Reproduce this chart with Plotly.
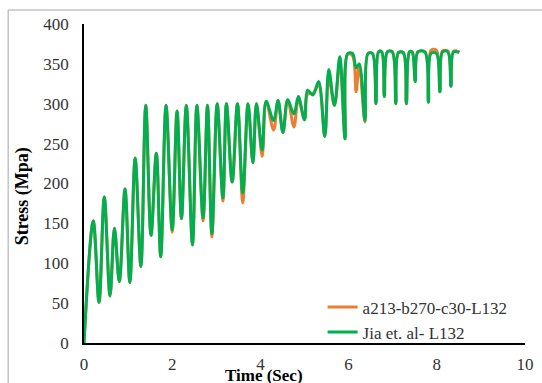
import plotly.graph_objects as go

# Time (s) of each turning point, shared by both series
time_s = [0.00, 0.21, 0.34, 0.46, 0.59, 0.69, 0.80, 0.93, 1.04, 1.16, 1.29, 1.40, 1.52, 1.64, 1.74, 1.86,
          2.00, 2.11, 2.21, 2.32, 2.46, 2.56, 2.70, 2.80, 2.90, 3.02, 3.15, 3.23, 3.36, 3.48, 3.60, 3.72,
          3.83, 3.91, 4.04, 4.13, 4.30, 4.40, 4.51, 4.62, 4.76, 4.86, 5.00, 5.07, 5.19, 5.32, 5.46, 5.55,
          5.68, 5.80, 5.92, 5.98, 6.09, 6.17, 6.24, 6.37,
          6.44, 6.54, 6.62, 6.68, 6.75, 6.81, 6.88, 6.99, 7.07, 7.13, 7.24, 7.31, 7.38, 7.44, 7.51,
          7.57, 7.73, 7.81, 7.87, 7.99, 8.07, 8.13, 8.25, 8.32, 8.38, 8.51]

# Stress (MPa), model a213-b270-c30-L132 (orange)
stress_model = [0, 153, 51, 183, 59, 144, 77, 193, 76, 232, 96, 298, 135, 238, 108, 298,
                139, 291, 156, 298, 123, 298, 153, 298, 133, 300, 178, 300, 202, 300, 176, 300,
                226, 300, 234, 303, 267, 304, 264, 305, 271, 306, 280, 312, 313, 323, 259, 332,
                298, 352, 256, 362, 360, 315, 350, 277,
                363, 363, 300, 365, 365, 309, 365, 365, 300, 364, 364, 300, 365, 365, 328,
                365, 365, 302, 367, 367, 315, 366, 366, 322, 366, 365]

# Stress (MPa), Jia et al. L132 (green)
stress_jia = [0, 153, 51, 183, 59, 144, 77, 193, 76, 232, 96, 298, 135, 238, 108, 298,
              142, 291, 156, 298, 123, 298, 157, 298, 137, 300, 182, 300, 202, 300, 188, 300,
              226, 300, 242, 303, 279, 304, 264, 305, 287, 309, 280, 317, 311, 328, 259, 343,
              298, 359, 256, 363, 363, 345, 350, 279,
              363, 363, 300, 365, 365, 309, 365, 365, 300, 364, 364, 300, 365, 365, 328,
              365, 365, 302, 363, 363, 315, 365, 365, 322, 365, 364]

x_ticks = [0, 2, 4, 6, 8, 10]
y_ticks = [0, 50, 100, 150, 200, 250, 300, 350, 400]

FONT = "Liberation Serif, DejaVu Serif, serif"
TICK_COLOR = "#333333"

fig = go.Figure()
fig.add_trace(go.Scatter(x=time_s, y=stress_model, mode="lines", name="a213-b270-c30-L132",
                         line=dict(color="#ED7D31", width=3, shape="spline", smoothing=1.0)))
fig.add_trace(go.Scatter(x=time_s, y=stress_jia, mode="lines", name="Jia et. al- L132",
                         line=dict(color="#00B050", width=3, shape="spline", smoothing=1.0)))

fig.update_layout(
    width=542, height=383,
    margin=dict(l=84, r=16.5, t=24, b=39.7),
    paper_bgcolor="white", plot_bgcolor="white",
    font=dict(family=FONT, size=17, color=TICK_COLOR),
    showlegend=True,
    legend=dict(x=0.541, y=0.168, xanchor="left", yanchor="top",
                bgcolor="rgba(0,0,0,0)", font=dict(family=FONT, size=17, color=TICK_COLOR),
                tracegroupgap=0, itemwidth=30),
    xaxis=dict(range=[0, 10], tickvals=x_ticks, ticks="outside", ticklen=5,
               tickcolor="rgba(0,0,0,0)", showgrid=False, zeroline=False, automargin=False,
               showline=True, linecolor="#000000", linewidth=1.5,
               tickfont=dict(family=FONT, size=17, color=TICK_COLOR)),
    yaxis=dict(range=[0, 400], tickvals=y_ticks, ticks="outside", ticklen=10,
               tickcolor="rgba(0,0,0,0)", showgrid=False, zeroline=False, automargin=False,
               showline=True, linecolor="#000000", linewidth=1.5,
               tickfont=dict(family=FONT, size=17, color=TICK_COLOR)),
    annotations=[
        dict(text="<b>Time (Sec)</b>", xref="paper", yref="paper", x=0.4077, y=-0.103,
             xanchor="center", yanchor="middle", showarrow=False,
             font=dict(family=FONT, size=17, color="#000000")),
        dict(text="<b>Stress (Mpa)</b>", xref="paper", yref="paper", x=-0.1404, y=0.46,
             xanchor="center", yanchor="middle", showarrow=False, textangle=-90,
             font=dict(family=FONT, size=18, color="#000000")),
    ],
    shapes=[
        dict(type="line", xref="paper", yref="paper", x0=-0.172, x1=1.2, y0=1.0438, y1=1.0438,
             line=dict(color="#A6A6A6", width=1)),
        dict(type="line", xref="paper", yref="paper", x0=-0.172, x1=-0.172, y0=1.0438, y1=-0.2,
             line=dict(color="#A6A6A6", width=1)),
    ],
)

fig.write_html("out.html")
